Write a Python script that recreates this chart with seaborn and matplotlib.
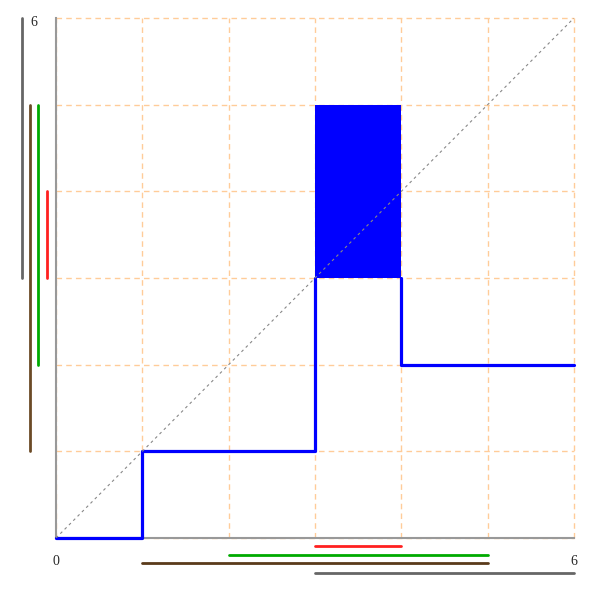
import matplotlib
matplotlib.use("Agg")
import matplotlib.pyplot as plt
import seaborn as sns
import numpy as np

sns.set_style("white")
plt.rcParams['font.family'] = ['Liberation Serif', 'DejaVu Serif']

# Step line (x, y)
step_x = [0, 1, 1, 3, 3]
step_y = [0, 0, 1, 1, 3]
step2_x = [4, 4, 6]
step2_y = [3, 2, 2]
# Filled box
box_x = [3, 4]
box_lo = [3, 3]
box_hi = [5, 5]

# Ranges along left margin (y ranges) and bottom margin (x ranges)
y_ranges = [(3, 6), (1, 5), (2, 5), (3, 4)]
y_colors = ["#666666", "#6b4a26", "#00aa00", "#ff2020"]
y_offsets = [-0.0656, -0.0502, -0.0347, -0.0174]

x_ranges = [(3, 4), (2, 5), (1, 5), (3, 6)]
x_colors = ["#ff2020", "#00aa00", "#5a3a1a", "#666666"]
x_offsets = [-0.0154, -0.032, -0.049, -0.0665]

lim = (0, 6)

fig = plt.figure(figsize=(6.0, 5.93), dpi=100)
ax = fig.add_axes([56/600, 55/593, 518/600, 520/593])
ax.set_xlim(*lim)
ax.set_ylim(*lim)

ax.set_xticks(range(0, 7))
ax.set_yticks(range(0, 7))
ax.grid(True, color="#ffcc99", linestyle=(0, (4, 3)), linewidth=1)
ax.set_axisbelow(True)
ax.tick_params(length=0, labelbottom=False, labelleft=False)
for s in ["top", "right"]:
    ax.spines[s].set_visible(False)
for s in ["left", "bottom"]:
    ax.spines[s].set_color("#999999")
    ax.spines[s].set_linewidth(1.5)

ax.fill_between(box_x, box_lo, box_hi, color="#0000ff", linewidth=0, zorder=2)
sns.lineplot(x=step_x, y=step_y, ax=ax, color="#0000ff", linewidth=2.3, sort=False,
             estimator=None, zorder=3, clip_on=False)
sns.lineplot(x=step2_x, y=step2_y, ax=ax, color="#0000ff", linewidth=2.3, sort=False,
             estimator=None, zorder=3, clip_on=False)
ax.plot(lim, lim, color="#888888", linestyle=(0, (2.5, 3)), linewidth=0.8, zorder=4)

ytr = ax.get_yaxis_transform()
for (a, b), c, o in zip(y_ranges, y_colors, y_offsets):
    ax.plot([o, o], [a, b], color=c, linewidth=2, transform=ytr, clip_on=False)
xtr = ax.get_xaxis_transform()
for (a, b), c, o in zip(x_ranges, x_colors, x_offsets):
    ax.plot([a, b], [o, o], color=c, linewidth=2, transform=xtr, clip_on=False)

ax.text(0, -0.045, "0", transform=xtr, ha="center", va="center", fontsize=10)
ax.text(6, -0.045, "6", transform=xtr, ha="center", va="center", fontsize=10)
ax.text(-0.042, 5.95, "6", transform=ytr, ha="center", va="center", fontsize=10)

fig.canvas.draw()
for gl in ax.get_xgridlines() + ax.get_ygridlines():
    gl.set_clip_on(False)

fig.savefig("out.png", dpi=100)
